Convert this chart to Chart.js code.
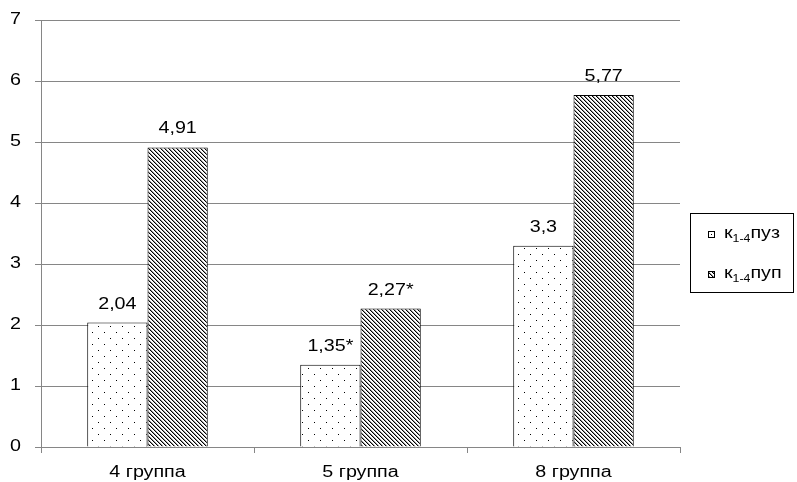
<!DOCTYPE html>
<html>
<head>
<meta charset="utf-8">
<script src="https://cdn.jsdelivr.net/npm/chart.js@4/dist/chart.umd.min.js"></script>
<style>
    html, body { margin: 0; padding: 0; background: #fff; }
    #wrap { width: 797px; height: 482px; }
</style>
</head>
<body>
<div id="wrap"><canvas id="chart" width="797" height="482"></canvas></div>
<script>
// data
const groups = ['4 группа', '5 группа', '8 группа'];
const puzValues = [2.04, 1.35, 3.3];
const pupValues = [4.91, 2.27, 5.77];
const puzLabels = ['2,04', '1,35*', '3,3'];
const pupLabels = ['4,91', '2,27*', '5,77'];
const yTicks = [0, 1, 2, 3, 4, 5, 6, 7];
const legendNames = ['пуз', 'пуп'];

const FONT = 'Arial, "Liberation Sans", sans-serif';
const GRID = '#868686';
const SX = 1.23; // text in the picture is a bit wider than plain Arial

// fill patterns: dots and diagonal hatch
function dotPattern() {
    const c = document.createElement('canvas');
    c.width = 12; c.height = 12;
    const g = c.getContext('2d');
    g.fillStyle = '#fff';
    g.fillRect(0, 0, 12, 12);
    g.fillStyle = '#000';
    g.fillRect(2, 2, 1, 1);
    g.fillRect(8, 8, 1, 1);
    return g.createPattern(c, 'repeat');
}

function hatchPattern() {
    const c = document.createElement('canvas');
    c.width = 4; c.height = 4;
    const g = c.getContext('2d');
    g.fillStyle = '#fff';
    g.fillRect(0, 0, 4, 4);
    for (let i = 0; i < 4; i++) {
        g.fillStyle = '#000';
        g.fillRect(i, i, 1, 1);
        g.fillStyle = '#9a9a9a';
        g.fillRect((i + 1) % 4, i, 1, 1);
    }
    return g.createPattern(c, 'repeat');
}

const dots = dotPattern();
const hatch = hatchPattern();

// draw text stretched horizontally
function wideText(ctx, text, x, y, align, size) {
    ctx.save();
    ctx.font = size + 'px ' + FONT;
    ctx.textAlign = align;
    ctx.translate(x, y);
    ctx.scale(SX, 1);
    ctx.fillText(text, 0, 0);
    ctx.restore();
    ctx.font = size + 'px ' + FONT;
    return ctx.measureText(text).width * SX;
}

// tick labels and value labels
const textLayer = {
    id: 'textLayer',
    afterDraw(chart) {
        const ctx = chart.ctx;
        const xs = chart.scales.x;
        const ys = chart.scales.y;
        ctx.save();
        ctx.fillStyle = '#000';
        ctx.textBaseline = 'alphabetic';

        yTicks.forEach(v => {
            wideText(ctx, String(v), 21, ys.getPixelForValue(v) + 4, 'right', 16);
        });
        groups.forEach((g, i) => {
            wideText(ctx, g, xs.getPixelForValue(i), 477, 'center', 16);
        });

        const texts = [puzLabels, pupLabels];
        chart.data.datasets.forEach((ds, di) => {
            chart.getDatasetMeta(di).data.forEach((bar, i) => {
                wideText(ctx, texts[di][i], bar.x, bar.y - 14, 'center', 16);
            });
        });
        ctx.restore();
    }
};

// legend box with subscript text
const boxLegend = {
    id: 'boxLegend',
    afterDraw(chart) {
        const ctx = chart.ctx;
        ctx.save();
        ctx.strokeStyle = '#000';
        ctx.lineWidth = 1;
        ctx.strokeRect(690.5, 213.5, 103, 79);
        const fills = [dots, hatch];
        const rows = [238, 278];
        rows.forEach((base, i) => {
            ctx.fillStyle = fills[i];
            ctx.fillRect(708, base - 7, 7, 7);
            ctx.strokeStyle = '#000';
            ctx.strokeRect(708.5, base - 6.5, 6, 6);
            if (i === 0) {
                ctx.fillStyle = '#000';
                ctx.fillRect(711, base - 4, 1, 1);
            }
            ctx.fillStyle = '#000';
            ctx.textBaseline = 'alphabetic';
            let x = 724;
            x += wideText(ctx, 'к', x, base, 'left', 16);
            x += wideText(ctx, '1-4', x, base + 4, 'left', 10);
            wideText(ctx, legendNames[i], x, base, 'left', 16);
        });
        ctx.restore();
    }
};

new Chart(document.getElementById('chart'), {
    type: 'bar',
    data: {
        labels: groups,
        datasets: [{
            label: 'к1-4пуз',
            data: puzValues,
            backgroundColor: dots,
            borderColor: '#000',
            borderWidth: 1,
            categoryPercentage: 0.566,
            barPercentage: 1
        }, {
            label: 'к1-4пуп',
            data: pupValues,
            backgroundColor: hatch,
            borderColor: '#000',
            borderWidth: 1,
            categoryPercentage: 0.566,
            barPercentage: 1
        }]
    },
    options: {
        responsive: false,
        animation: false,
        devicePixelRatio: 1,
        layout: { padding: { top: 20, right: 117, left: 0, bottom: 0 } },
        plugins: {
            legend: { display: false },
            tooltip: { enabled: false }
        },
        scales: {
            x: {
                grid: { offset: true, drawOnChartArea: false, tickLength: 6, color: GRID },
                border: { color: GRID },
                ticks: { display: false },
                afterFit(s) { s.height = 35; }
            },
            y: {
                min: 0,
                max: 7,
                ticks: { stepSize: 1, display: false },
                grid: { color: GRID, tickLength: 6 },
                border: { color: GRID },
                afterFit(s) { s.width = 41; }
            }
        }
    },
    plugins: [textLayer, boxLegend]
});
</script>
</body>
</html>
